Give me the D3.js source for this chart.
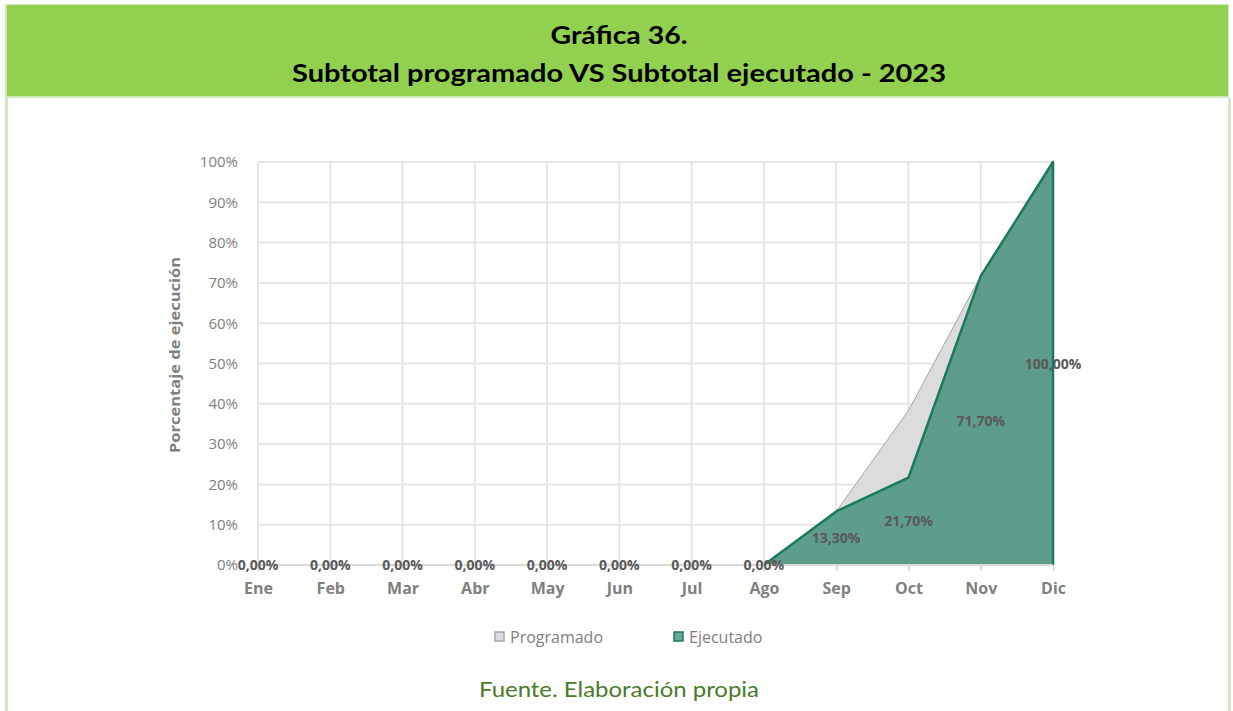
<!DOCTYPE html>
<html>
<head>
<meta charset="utf-8">
<script src="https://cdn.jsdelivr.net/npm/d3@7"></script>
<style>
  body { margin: 0; background: #fff; }
</style>
</head>
<body>
<div id="chart"></div>
<script>
// data
var months = ["Ene", "Feb", "Mar", "Abr", "May", "Jun", "Jul", "Ago", "Sep", "Oct", "Nov", "Dic"]
var programado = [0, 0, 0, 0, 0, 0, 0, 0, 13.3, 38.3, 71.7, 100]
var ejecutado = [0, 0, 0, 0, 0, 0, 0, 0, 13.3, 21.7, 71.7, 100]
var yTicks = [0, 10, 20, 30, 40, 50, 60, 70, 80, 90, 100]

var width = 1233
var height = 711

var svg = d3.select("#chart")
    .append("svg")
    .attr("width", width)
    .attr("height", height)

// frame and green header band
svg.append("rect").attr("x", 5).attr("y", 4).attr("width", 1224).attr("height", 94).style("fill", "#cfe8bf")
svg.append("rect").attr("x", 7).attr("y", 5).attr("width", 1221).attr("height", 91).style("fill", "#92d050")
svg.append("rect").attr("x", 5).attr("y", 98).attr("width", 3).attr("height", 613).style("fill", "#cfe8bf")
svg.append("rect").attr("x", 1228).attr("y", 98).attr("width", 3).attr("height", 613).style("fill", "#cfe8bf")

var titleFont = "Lato, 'DejaVu Sans', sans-serif"
svg.append("text").attr("x", 619).attr("y", 44).attr("text-anchor", "middle")
    .style("font-family", titleFont).style("font-weight", "bold").style("font-size", "24px")
    .attr("textLength", 137).attr("lengthAdjust", "spacingAndGlyphs")
    .text("Gráfica 36.")
svg.append("text").attr("x", 619).attr("y", 82).attr("text-anchor", "middle")
    .style("font-family", titleFont).style("font-weight", "bold").style("font-size", "24px")
    .attr("textLength", 654).attr("lengthAdjust", "spacingAndGlyphs")
    .text("Subtotal programado VS Subtotal ejecutado - 2023")

// scales
var x = d3.scalePoint()
    .domain(months)
    .range([258, 1053])

var y = d3.scaleLinear()
    .domain([0, 100])
    .range([565, 162])

var font = "'Open Sans', 'Liberation Sans', sans-serif"

// gridlines
svg.append("g").selectAll("line").data(yTicks).enter().append("line")
    .attr("x1", x("Ene")).attr("x2", x("Dic"))
    .attr("y1", function(d) { return y(d) }).attr("y2", function(d) { return y(d) })
    .style("stroke", "#e6e6e6").style("stroke-width", 2)
svg.append("g").selectAll("line").data(months).enter().append("line")
    .attr("x1", function(d) { return x(d) }).attr("x2", function(d) { return x(d) })
    .attr("y1", y(0)).attr("y2", y(100))
    .style("stroke", "#e6e6e6").style("stroke-width", 2)

// y axis labels
var yAxis = svg.append("g")
    .attr("transform", "translate(" + (x("Ene") - 17) + ",0)")
    .call(d3.axisLeft(y).tickValues(yTicks).tickSize(0).tickFormat(function(d) { return d + "%" }))
yAxis.select(".domain").remove()
yAxis.selectAll("text").style("font-family", font).style("font-size", "15px").style("fill", "#808080")

svg.append("text")
    .attr("transform", "translate(180,355) rotate(-90)")
    .attr("text-anchor", "middle")
    .style("font-family", font).style("font-size", "15px").style("font-weight", "bold").style("fill", "#808080")
    .attr("textLength", 196).attr("lengthAdjust", "spacingAndGlyphs")
    .text("Porcentaje de ejecución")

// areas
var area = function(vals) {
    return d3.area()
        .x(function(d, i) { return x(months[i]) })
        .y0(y(0))
        .y1(function(d) { return y(d) })(vals)
}
var line = function(vals) {
    return d3.line()
        .x(function(d, i) { return x(months[i]) })
        .y(function(d) { return y(d) })(vals)
}

svg.append("path").attr("d", area(programado))
    .style("fill", "#dcdcdc").style("stroke", "none")
svg.append("path").attr("d", line(programado))
    .style("fill", "none").style("stroke", "#a6a6a6").style("stroke-width", 1)

svg.append("path").attr("d", area(ejecutado))
    .style("fill", "#1a7a61").style("fill-opacity", 0.65).style("stroke", "none")
// outline of ejecutado: only from the point where it leaves zero, plus the right edge
var startIdx = 7
var outline = ejecutado.map(function(d, i) { return [x(months[i]), y(d)] }).slice(startIdx)
outline.push([x("Dic"), y(0)])
svg.append("path").attr("d", d3.line()(outline))
    .style("fill", "none").style("stroke", "#1b7a5e").style("stroke-width", 2.5).style("stroke-linejoin", "round")

// x axis
var xAxis = svg.append("g")
    .attr("transform", "translate(0," + y(0) + ")")
    .call(d3.axisBottom(x).tickSize(6).tickPadding(12))
xAxis.select(".domain").attr("d", "M" + x("Ene") + ",0H" + x("Dic")).style("stroke", "#d9d9d9").style("stroke-width", 2)
xAxis.selectAll("line").style("stroke", "#d9d9d9").style("stroke-width", 2)
xAxis.selectAll("text").style("font-family", font).style("font-size", "16px").style("font-weight", "bold").style("fill", "#808080")

// data labels (ejecutado, centred in the area)
svg.append("g").selectAll("text").data(ejecutado).enter().append("text")
    .attr("x", function(d, i) { return x(months[i]) })
    .attr("y", function(d) { return y(d / 2) + 5 })
    .attr("text-anchor", "middle")
    .style("font-family", font).style("font-size", "14px").style("font-weight", "bold").style("fill", "#595959")
    .text(function(d) { return d.toFixed(2).replace(".", ",") + "%" })

// legend
var legend = [["Programado", "#dcdcdc", "#a6a6a6", 495], ["Ejecutado", "#6aa898", "#1b7a5e", 674]]
legend.forEach(function(l) {
    svg.append("rect").attr("x", l[3]).attr("y", 632).attr("width", 9).attr("height", 9)
        .style("fill", l[1]).style("stroke", l[2]).style("stroke-width", 1.5)
    svg.append("text").attr("x", l[3] + 15).attr("y", 643)
        .style("font-family", font).style("font-size", "16px").style("fill", "#808080")
        .text(l[0])
})

svg.append("text").attr("x", 619).attr("y", 697).attr("text-anchor", "middle")
    .style("font-family", titleFont).style("font-size", "21px").style("fill", "#4a7a2a")
    .attr("textLength", 280).attr("lengthAdjust", "spacingAndGlyphs")
    .text("Fuente. Elaboración propia")
</script>
</body>
</html>
